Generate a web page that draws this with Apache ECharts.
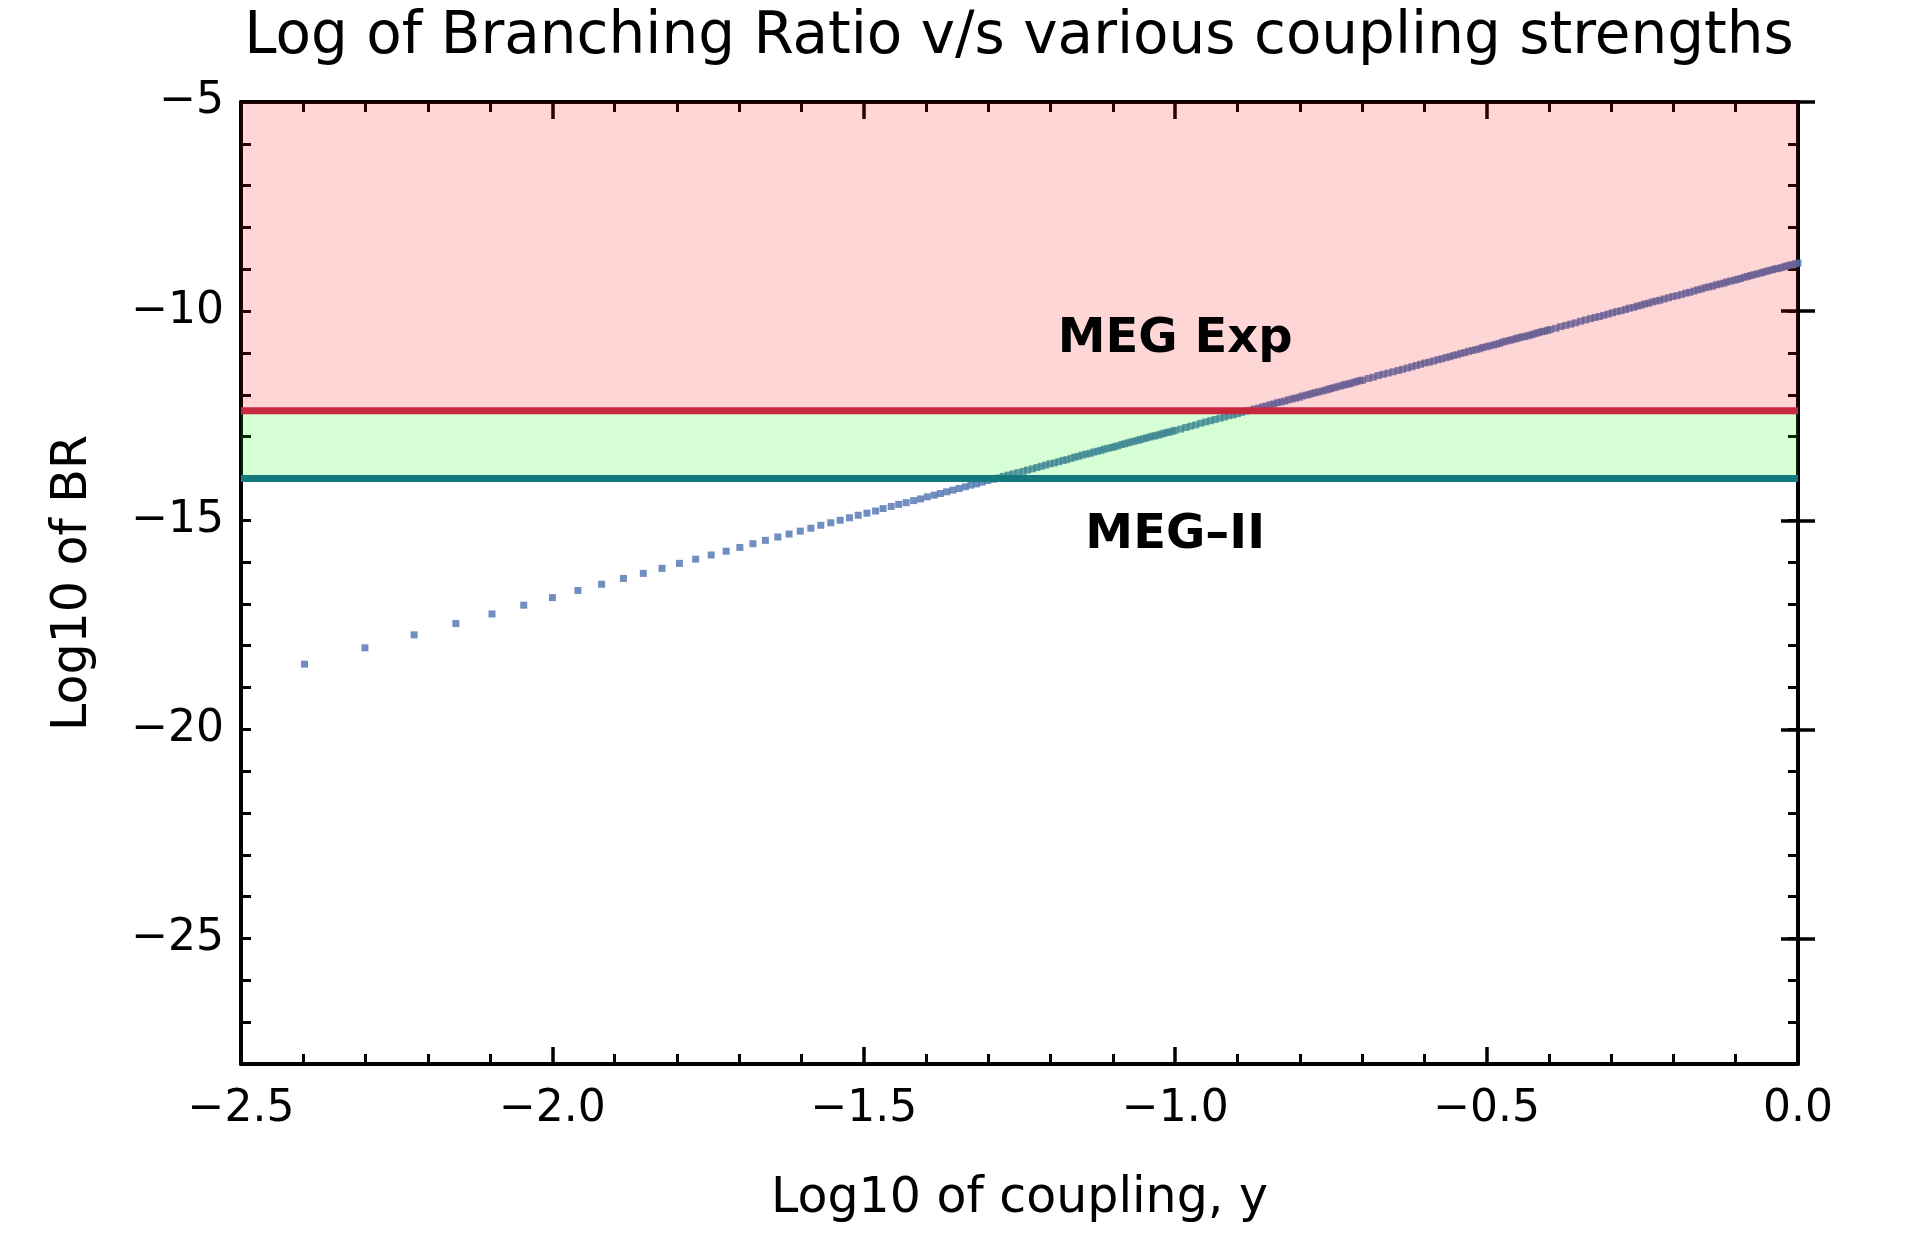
<!DOCTYPE html>
<html>
<head>
<meta charset="utf-8">
<title>Log of Branching Ratio v/s various coupling strengths</title>
<script src="https://cdn.jsdelivr.net/npm/echarts@6/dist/echarts.min.js"></script>
<style>
  html, body { margin: 0; padding: 0; background: #ffffff; }
  #chart { width: 1905px; height: 1237px; }
</style>
</head>
<body>
<div id="chart"></div>
<script>
// log10 of the coupling y (x values of the scan)
const logCoupling = [
  -2.398,-2.301,-2.222,-2.155,-2.097,-2.046,-2.000,-1.959,-1.921,-1.886,
  -1.854,-1.824,-1.796,-1.770,-1.745,-1.721,-1.699,-1.678,-1.658,-1.638,
  -1.620,-1.602,-1.585,-1.569,-1.553,-1.538,-1.523,-1.509,-1.495,-1.481,
  -1.469,-1.456,-1.444,-1.432,-1.420,-1.409,-1.398,-1.387,-1.377,-1.367,
  -1.357,-1.347,-1.337,-1.328,-1.319,-1.310,-1.301,-1.292,-1.284,-1.276,
  -1.268,-1.260,-1.252,-1.244,-1.237,-1.229,-1.222,-1.215,-1.208,-1.201,
  -1.194,-1.187,-1.180,-1.174,-1.167,-1.161,-1.155,-1.149,-1.143,-1.137,
  -1.131,-1.125,-1.119,-1.114,-1.108,-1.102,-1.097,-1.092,-1.086,-1.081,
  -1.076,-1.071,-1.066,-1.060,-1.056,-1.051,-1.046,-1.041,-1.036,-1.032,
  -1.027,-1.022,-1.018,-1.013,-1.009,-1.004,-1.000,
  -0.991,-0.983,-0.975,-0.967,-0.959,-0.951,-0.943,-0.936,-0.928,-0.921,
  -0.914,-0.907,-0.900,-0.893,-0.886,-0.879,-0.873,-0.866,-0.860,-0.854,
  -0.848,-0.842,-0.836,-0.830,-0.824,-0.818,-0.812,-0.807,-0.801,-0.796,
  -0.790,-0.785,-0.780,-0.775,-0.770,-0.764,-0.759,-0.754,-0.750,-0.745,
  -0.740,-0.735,-0.730,-0.726,-0.721,-0.717,-0.712,-0.708,-0.703,-0.699,
  -0.690,-0.682,-0.674,-0.666,-0.658,-0.650,-0.642,-0.635,-0.627,-0.620,
  -0.613,-0.606,-0.599,-0.592,-0.585,-0.578,-0.572,-0.565,-0.559,-0.553,
  -0.547,-0.541,-0.535,-0.529,-0.523,-0.517,-0.511,-0.506,-0.500,-0.495,
  -0.489,-0.484,-0.479,-0.474,-0.469,-0.463,-0.458,-0.453,-0.449,-0.444,
  -0.439,-0.434,-0.429,-0.425,-0.420,-0.416,-0.411,-0.407,-0.402,-0.398,
  -0.389,-0.381,-0.373,-0.365,-0.357,-0.349,-0.341,-0.333,-0.326,-0.319,
  -0.312,-0.305,-0.298,-0.291,-0.284,-0.277,-0.271,-0.264,-0.258,-0.252,
  -0.246,-0.240,-0.234,-0.228,-0.222,
  -0.215,-0.208,-0.201,-0.194,-0.187,-0.180,-0.174,-0.167,-0.161,-0.155,
  -0.149,-0.143,-0.137,-0.131,-0.125,-0.119,-0.114,-0.108,-0.102,-0.097,
  -0.092,-0.086,-0.081,-0.076,-0.071,-0.066,-0.060,-0.056,-0.051,-0.046,
  -0.041,-0.036,-0.032,-0.027,-0.022,-0.018,-0.013,-0.009,-0.004,0.000
];

// log10 of the branching ratio at each coupling
const logBR = [
  -18.44,-18.05,-17.74,-17.47,-17.24,-17.03,-16.85,-16.68,-16.53,-16.39,
  -16.27,-16.15,-16.03,-15.93,-15.83,-15.74,-15.65,-15.56,-15.48,-15.40,
  -15.33,-15.26,-15.19,-15.12,-15.06,-15.00,-14.94,-14.88,-14.83,-14.78,
  -14.72,-14.67,-14.62,-14.58,-14.53,-14.49,-14.44,-14.40,-14.36,-14.32,
  -14.28,-14.24,-14.20,-14.16,-14.13,-14.09,-14.05,-14.02,-13.99,-13.95,
  -13.92,-13.89,-13.86,-13.83,-13.80,-13.77,-13.74,-13.71,-13.68,-13.65,
  -13.63,-13.60,-13.57,-13.55,-13.52,-13.49,-13.47,-13.44,-13.42,-13.40,
  -13.37,-13.35,-13.33,-13.30,-13.28,-13.26,-13.24,-13.22,-13.19,-13.17,
  -13.15,-13.13,-13.11,-13.09,-13.07,-13.05,-13.03,-13.01,-12.99,-12.98,
  -12.96,-12.94,-12.92,-12.90,-12.89,-12.87,-12.85,
  -12.82,-12.78,-12.75,-12.72,-12.68,-12.65,-12.62,-12.59,-12.56,-12.53,
  -12.50,-12.48,-12.45,-12.42,-12.39,-12.37,-12.34,-12.32,-12.29,-12.27,
  -12.24,-12.22,-12.19,-12.17,-12.15,-12.12,-12.10,-12.08,-12.06,-12.03,
  -12.01,-11.99,-11.97,-11.95,-11.93,-11.91,-11.89,-11.87,-11.85,-11.83,
  -11.81,-11.79,-11.77,-11.75,-11.74,-11.72,-11.70,-11.68,-11.66,-11.65,
  -11.61,-11.58,-11.54,-11.51,-11.48,-11.45,-11.42,-11.39,-11.36,-11.33,
  -11.30,-11.27,-11.24,-11.22,-11.19,-11.16,-11.14,-11.11,-11.09,-11.06,
  -11.04,-11.01,-10.99,-10.96,-10.94,-10.92,-10.90,-10.87,-10.85,-10.83,
  -10.81,-10.79,-10.77,-10.74,-10.72,-10.70,-10.68,-10.66,-10.64,-10.62,
  -10.61,-10.59,-10.57,-10.55,-10.53,-10.51,-10.49,-10.48,-10.46,-10.44,
  -10.41,-10.37,-10.34,-10.31,-10.28,-10.24,-10.21,-10.18,-10.15,-10.13,
  -10.10,-10.07,-10.04,-10.01,-9.99,-9.96,-9.93,-9.91,-9.88,-9.86,
  -9.83,-9.81,-9.78,-9.76,-9.74,
  -9.71,-9.68,-9.65,-9.63,-9.60,-9.57,-9.55,-9.52,-9.49,-9.47,
  -9.44,-9.42,-9.40,-9.37,-9.35,-9.33,-9.30,-9.28,-9.26,-9.24,
  -9.22,-9.19,-9.17,-9.15,-9.13,-9.11,-9.09,-9.07,-9.05,-9.03,
  -9.01,-8.99,-8.98,-8.96,-8.94,-8.92,-8.90,-8.89,-8.87,-8.85
];

// experimental upper limits, log10(BR)
const megExpLimit = -12.38;
const megIILimit = -14.0;

// band labels and where they sit (data coordinates)
const bandLabels = ['MEG Exp', 'MEG\u2013II'];
const bandLabelX = [-1.0, -1.0];
const bandLabelY = [-10.69, -15.36];

// labelled y ticks
const yTickValues = [-25, -20, -15, -10, -5];

const X_MIN = -2.5, X_MAX = 0, Y_MIN = -28, Y_MAX = -5;
const FONT = "'DejaVu Sans', 'Liberation Sans', sans-serif";
const INK = '#000000';

const minus = v => (v < 0 ? '\u2212' : '') + Math.abs(v);

const axisLineStyle = { show: true, onZero: false, lineStyle: { color: INK, width: 4 } };
const majorTick = { show: true, inside: true, length: 17, lineStyle: { color: INK, width: 3.5 } };
const minorTickShort = { show: true, inside: true, length: 10, lineStyle: { color: INK, width: 3 } };

function xAxisDef(position, showLabels) {
  return {
    type: 'value', position: position, min: X_MIN, max: X_MAX, interval: 0.5,
    axisLine: axisLineStyle,
    axisTick: majorTick,
    minorTick: { show: true, splitNumber: 5, length: 10, lineStyle: { color: INK, width: 3 } },
    splitLine: { show: false }, minorSplitLine: { show: false },
    axisLabel: {
      show: showLabels, margin: 24, fontSize: 44, fontFamily: FONT, color: INK,
      formatter: v => (v < 0 ? '\u2212' : '') + Math.abs(v).toFixed(1)
    },
    name: showLabels ? 'Log10 of coupling, y' : '',
    nameLocation: 'middle', nameGap: 111,
    nameTextStyle: { fontSize: 49, fontFamily: FONT, color: INK }
  };
}

// unit ticks on one axis, longer labelled ticks on an overlaid twin
function yAxisUnit(position, showLabels) {
  return {
    type: 'value', position: position, min: Y_MIN, max: Y_MAX, interval: 1,
    axisLine: axisLineStyle,
    axisTick: minorTickShort,
    splitLine: { show: false },
    axisLabel: {
      show: showLabels, margin: 17, fontSize: 44, fontFamily: FONT, color: INK,
      formatter: v => (yTickValues.indexOf(Math.round(v)) >= 0 ? minus(Math.round(v)) : '')
    },
    name: showLabels ? 'Log10 of BR' : '',
    nameLocation: 'middle', nameGap: 143,
    nameTextStyle: { fontSize: 49, fontFamily: FONT, color: INK }
  };
}
function yAxisMajor(position) {
  return {
    type: 'value', position: position, min: Y_MIN, max: Y_MAX, interval: 1,
    axisLine: { show: false },
    axisTick: Object.assign({ customValues: yTickValues }, majorTick),
    splitLine: { show: false },
    axisLabel: { show: false }
  };
}

const chart = echarts.init(document.getElementById('chart'), null, { renderer: 'canvas' });

const bandFills = ['rgba(255,0,0,0.16)', 'rgba(0,255,0,0.16)'];

chart.setOption({
  animation: false,
  backgroundColor: '#ffffff',
  grid: { left: 241, right: 107, top: 102, bottom: 173, containLabel: false },
  graphic: [{
    type: 'text', x: 1019, y: 38, z: 10,
    style: {
      text: 'Log of Branching Ratio v/s various coupling strengths',
      fontSize: 58, fontFamily: FONT, fill: INK, align: 'center', verticalAlign: 'middle'
    }
  }],
  xAxis: [xAxisDef('bottom', true), xAxisDef('top', false)],
  yAxis: [yAxisUnit('left', true), yAxisMajor('left'), yAxisUnit('right', false), yAxisMajor('right')],
  series: [
    {
      name: 'scan', type: 'scatter', z: 2,
      symbol: 'rect', symbolSize: 7,
      itemStyle: { color: '#4c72b0' },
      data: logCoupling.map((x, i) => [x, logBR[i]])
    },
    {
      // shaded regions: excluded by MEG, and the MEG-II reach
      name: 'bands', type: 'custom', z: 3,
      data: [[megExpLimit, Y_MAX], [megIILimit, megExpLimit]],
      renderItem: (params, api) => {
        const lo = api.value(0), hi = api.value(1);
        const p0 = api.coord([X_MIN, hi]);
        const p1 = api.coord([X_MAX, lo]);
        return {
          type: 'rect',
          shape: { x: p0[0], y: p0[1], width: p1[0] - p0[0], height: p1[1] - p0[1] },
          style: { fill: bandFills[params.dataIndex] }
        };
      }
    },
    {
      name: 'MEG Exp limit', type: 'line', z: 4, showSymbol: false, silent: true,
      lineStyle: { color: '#c8283e', width: 7 },
      data: [[X_MIN, megExpLimit], [X_MAX, megExpLimit]]
    },
    {
      name: 'MEG-II limit', type: 'line', z: 4, showSymbol: false, silent: true,
      lineStyle: { color: '#14797f', width: 7 },
      data: [[X_MIN, megIILimit], [X_MAX, megIILimit]]
    },
    {
      name: 'labels', type: 'custom', z: 5,
      data: bandLabelX.map((x, i) => [x, bandLabelY[i]]),
      renderItem: (params, api) => {
        const p = api.coord([api.value(0), api.value(1)]);
        return {
          type: 'text', x: p[0], y: p[1],
          style: {
            text: bandLabels[params.dataIndex], fontSize: 48, fontWeight: 'bold',
            fontFamily: FONT, fill: INK, align: 'center', verticalAlign: 'middle'
          }
        };
      }
    }
  ]
});
</script>
</body>
</html>
